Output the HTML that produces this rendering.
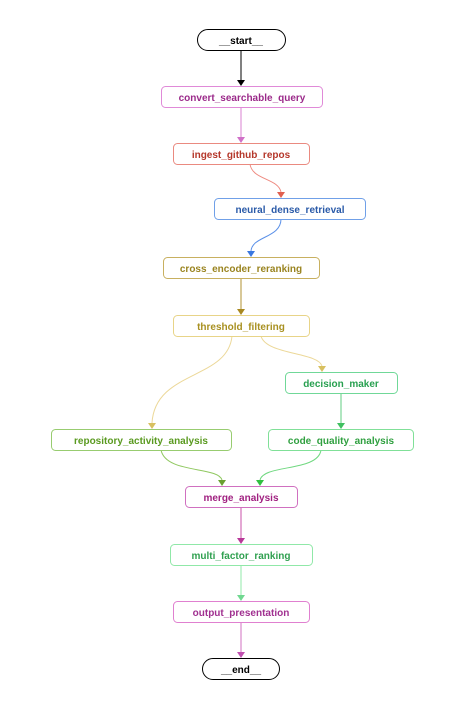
<!DOCTYPE html>
<html><head><meta charset="utf-8"><style>
html,body{margin:0;padding:0;background:#fff;}
svg text{font-family:"Liberation Sans",sans-serif;font-size:10px;font-weight:bold;text-anchor:middle;}
</style></head><body>
<svg width="452" height="712" viewBox="0 0 452 712" xmlns="http://www.w3.org/2000/svg">
<g fill="none" stroke-width="1">
<path d="M241 51V80" stroke="#000"/>
<path d="M241 107V137" stroke="#d880d0"/>
<path d="M250 164C252 180 278 178 281 192" stroke="#ee8a80"/>
<path d="M281 219C281 238 252 236 251 251" stroke="#5a90e8"/>
<path d="M241 278V309" stroke="#b09030"/>
<path d="M232 336C228 380 155 370 152 423" stroke="#ecd898"/>
<path d="M261 336C266 355 318 352 322 366" stroke="#ecd898"/>
<path d="M341 393V423" stroke="#60cc80"/>
<path d="M161 450C166 474 218 466 222 480" stroke="#90c860"/>
<path d="M321 450C318 472 264 464 260 480" stroke="#70d880"/>
<path d="M241 507V538" stroke="#c850a8"/>
<path d="M241 565V595" stroke="#90e8a8"/>
<path d="M241 622V652" stroke="#d070c0"/>
</g>
<g>
<path d="M237 80h8l-4 6z" fill="#000"/>
<path d="M237 137h8l-4 6z" fill="#d070c8"/>
<path d="M277 192h8l-4 6z" fill="#e06050"/>
<path d="M247 251h8l-4 6z" fill="#3a78e0"/>
<path d="M237 309h8l-4 6z" fill="#a88820"/>
<path d="M148 423h8l-4 6z" fill="#d8c060"/>
<path d="M318 366h8l-4 6z" fill="#d8c060"/>
<path d="M337 423h8l-4 6z" fill="#40c060"/>
<path d="M218 480h8l-4 6z" fill="#6aa030"/>
<path d="M256 480h8l-4 6z" fill="#30c040"/>
<path d="M237 538h8l-4 6z" fill="#b83898"/>
<path d="M237 595h8l-4 6z" fill="#70d890"/>
<path d="M237 652h8l-4 6z" fill="#c050b0"/>
</g>
<g fill="#fff">
<rect x="197.5" y="29.5" width="88" height="21" rx="10.5" stroke="#000"/>
<rect x="161.5" y="86.5" width="161" height="21" rx="4" stroke="#e08ad8"/>
<rect x="173.5" y="143.5" width="136" height="21" rx="4" stroke="#ea8a80"/>
<rect x="214.5" y="198.5" width="151" height="21" rx="4" stroke="#70a0e8"/>
<rect x="163.5" y="257.5" width="156" height="21" rx="4" stroke="#c8b060"/>
<rect x="173.5" y="315.5" width="136" height="21" rx="4" stroke="#e8d488"/>
<rect x="285.5" y="372.5" width="112" height="21" rx="4" stroke="#70d898"/>
<rect x="51.5" y="429.5" width="180" height="21" rx="4" stroke="#98cc70"/>
<rect x="268.5" y="429.5" width="145" height="21" rx="4" stroke="#80e098"/>
<rect x="185.5" y="486.5" width="112" height="21" rx="4" stroke="#d070c0"/>
<rect x="170.5" y="544.5" width="142" height="21" rx="4" stroke="#90e8a8"/>
<rect x="173.5" y="601.5" width="136" height="21" rx="4" stroke="#e080d0"/>
<rect x="202.5" y="658.5" width="77" height="21" rx="10.5" stroke="#000"/>
</g>
<text x="241" y="44" fill="#000">__start__</text>
<text x="242" y="101" fill="#9b2a8a">convert_searchable_query</text>
<text x="241" y="158" fill="#b5372a">ingest_github_repos</text>
<text x="290" y="213" fill="#2a5aa8">neural_dense_retrieval</text>
<text x="241" y="272" fill="#9a8420">cross_encoder_reranking</text>
<text x="241" y="330" fill="#a89020">threshold_filtering</text>
<text x="341" y="387" fill="#28a050">decision_maker</text>
<text x="141" y="444" fill="#5a9a20">repository_activity_analysis</text>
<text x="341" y="444" fill="#30a040">code_quality_analysis</text>
<text x="241" y="501" fill="#a02080">merge_analysis</text>
<text x="241" y="559" fill="#30a050">multi_factor_ranking</text>
<text x="241" y="616" fill="#a03090">output_presentation</text>
<text x="241" y="673" fill="#000">__end__</text>
</svg>
</body></html>
